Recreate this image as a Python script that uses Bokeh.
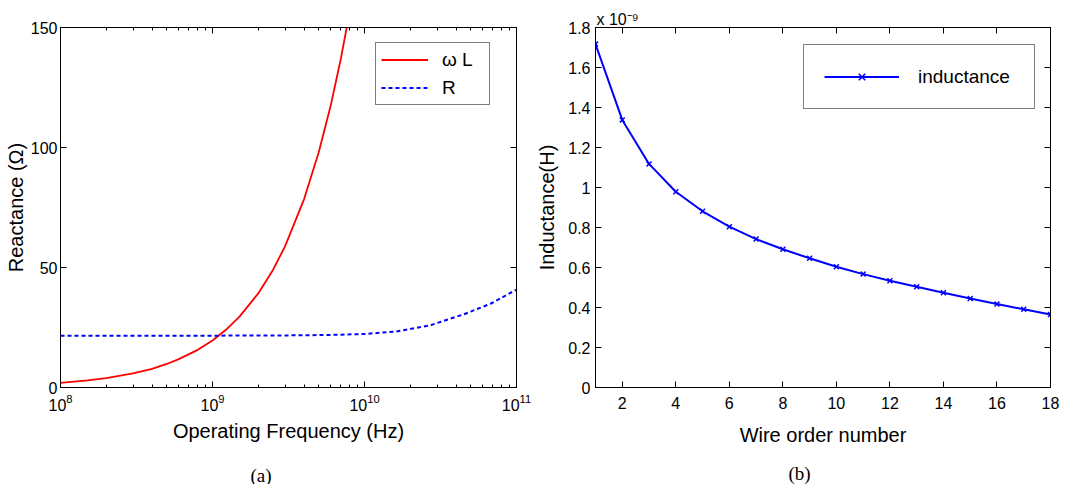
from bokeh.plotting import figure
from bokeh.layouts import row
from bokeh.models import (LogAxis, LinearAxis, LogTicker, FixedTicker, Legend,
                          LegendItem, Title, Range1d)
from bokeh.embed import file_html
from bokeh.resources import INLINE

# ---------------- data ----------------
# panel (a): reactance vs operating frequency
freq_wl = [1e8, 1.5e8, 2e8, 3e8, 4e8, 5e8, 6e8, 8e8, 1e9, 1.25e9, 1.5e9,
           2e9, 2.5e9, 3e9, 4e9, 5e9, 6e9, 7e9, 8e9]
omega_l = [1.96, 2.94, 3.92, 5.9, 7.8, 9.8, 11.8, 15.7, 19.6, 24.5, 29.4,
           39.2, 49.0, 58.8, 78.4, 98.0, 117.6, 137.2, 156.8]
freq_r = [1e8, 1e9, 3e9, 6e9, 1e10, 1.6e10, 2.7e10, 4.5e10, 6.8e10, 1e11]
resistance = [21.6, 21.6, 21.7, 21.9, 22.3, 23.3, 25.9, 30.5, 35.0, 40.8]
y_ticks_a = [0, 50, 100, 150]

# panel (b): inductance (x 1e-9 H) vs wire order number
wire = [1, 2, 3, 4, 5, 6, 7, 8, 9, 10, 11, 12, 13, 14, 15, 16, 17, 18]
inductance = [1.717, 1.338, 1.118, 0.979, 0.881, 0.804, 0.742, 0.691, 0.646,
              0.604, 0.567, 0.534, 0.504, 0.474, 0.445, 0.417, 0.391, 0.365]
x_ticks_b = [2, 4, 6, 8, 10, 12, 14, 16, 18]
y_ticks_b = [0, 0.2, 0.4, 0.6, 0.8, 1, 1.2, 1.4, 1.6, 1.8]
y_labels_b = ["0", "0.2", "0.4", "0.6", "0.8", "1", "1.2", "1.4", "1.6", "1.8"]

SANS = "Liberation Sans"
SERIF = "Liberation Serif"


def style_axis(ax, show_labels=True):
    ax.axis_line_color = "black"
    ax.axis_line_width = 1
    ax.major_tick_in = 6
    ax.major_tick_out = 0
    ax.minor_tick_in = 3
    ax.minor_tick_out = 0
    ax.major_tick_line_color = "black"
    ax.minor_tick_line_color = "black"
    ax.major_label_text_font = SANS
    ax.major_label_text_color = "black"
    ax.axis_label_text_font = SANS
    ax.axis_label_text_font_size = "20px"
    ax.axis_label_text_font_style = "normal"
    ax.axis_label_text_color = "black"
    ax.major_label_text_font_size = "16px"
    if not show_labels:
        ax.major_label_text_font_size = "1px"
        ax.major_label_text_alpha = 0
        ax.major_label_standoff = 0


def base_fig(**kw):
    p = figure(output_backend="svg", toolbar_location=None,
               background_fill_color="white", border_fill_color="white",
               **kw)
    p.outline_line_color = "black"
    p.outline_line_width = 1
    p.xgrid.grid_line_color = None
    p.ygrid.grid_line_color = None
    return p


def caption(text, offset, standoff):
    return Title(text=text, align="left", offset=offset,
                 vertical_align="bottom", standoff=standoff,
                 text_font=SERIF, text_font_size="19px",
                 text_font_style="normal", text_color="black")


# ---------------- panel (a) ----------------
pa = base_fig(x_axis_type="log", x_range=Range1d(1e8, 1e11),
              y_range=Range1d(0, 150), frame_width=456, frame_height=360,
              min_border_left=60, min_border_right=17, min_border_top=27,
              min_border_bottom=97)

r_wl = pa.line(freq_wl, omega_l, line_color="#ff0000", line_width=1.8)
r_r = pa.line(freq_r, resistance, line_color="#0000ff", line_width=2,
              line_dash="4 3")

xa = pa.xaxis[0]
xa.ticker = LogTicker(num_minor_ticks=10)
style_axis(xa)
xa.axis_label = "Operating Frequency (Hz)"
xa.major_label_standoff = 6
xa.axis_label_standoff = 6

ya = pa.yaxis[0]
ya.ticker = FixedTicker(ticks=y_ticks_a)
style_axis(ya)
ya.minor_tick_line_color = None
ya.axis_label = "Reactance (Ω)"
ya.major_label_standoff = 3
ya.axis_label_standoff = 1

top_a = LogAxis(ticker=LogTicker(num_minor_ticks=10))
style_axis(top_a, show_labels=False)
pa.add_layout(top_a, "above")
right_a = LinearAxis(ticker=FixedTicker(ticks=y_ticks_a))
style_axis(right_a, show_labels=False)
right_a.minor_tick_line_color = None
pa.add_layout(right_a, "right")

leg_a = Legend(items=[LegendItem(label="ω L", renderers=[r_wl]),
                      LegendItem(label="R", renderers=[r_r])],
               location=(315, 282), orientation="vertical", margin=0,
               padding=5, spacing=5, glyph_width=47, glyph_height=23,
               label_height=23, label_width=42, label_standoff=14,
               border_line_color="black", border_line_width=1,
               background_fill_color="white", background_fill_alpha=1,
               label_text_font=SANS, label_text_font_size="19px",
               label_text_color="black")
pa.add_layout(leg_a)
pa.add_layout(caption("(a)", 190, 36), "below")

# ---------------- panel (b) ----------------
pb = base_fig(x_range=Range1d(1, 18), y_range=Range1d(0, 1.8),
              frame_width=455, frame_height=360,
              min_border_left=61, min_border_right=12, min_border_top=27,
              min_border_bottom=97)

r_line = pb.line(wire, inductance, line_color="#0000ff", line_width=2)
r_mark = pb.scatter(wire, inductance, marker="x", size=7,
                    line_color="#0000ff", line_width=1.5)

xb = pb.xaxis[0]
xb.ticker = FixedTicker(ticks=x_ticks_b)
style_axis(xb)
xb.minor_tick_line_color = None
xb.axis_label = "Wire order number"
xb.major_label_standoff = 9
xb.axis_label_standoff = 12

yb = pb.yaxis[0]
yb.ticker = FixedTicker(ticks=y_ticks_b)
yb.major_label_overrides = dict(zip(y_ticks_b, y_labels_b))
style_axis(yb)
yb.minor_tick_line_color = None
yb.axis_label = "Inductance(H)"
yb.major_label_standoff = 5
yb.axis_label_standoff = 7

top_b = LinearAxis(ticker=FixedTicker(ticks=x_ticks_b))
style_axis(top_b, show_labels=False)
top_b.minor_tick_line_color = None
pb.add_layout(top_b, "above")
right_b = LinearAxis(ticker=FixedTicker(ticks=y_ticks_b))
style_axis(right_b, show_labels=False)
right_b.minor_tick_line_color = None
pb.add_layout(right_b, "right")

pb.add_layout(Title(text="x 10⁻⁹", align="left", offset=1,
                    vertical_align="bottom", standoff=0,
                    text_font=SANS, text_font_size="16px",
                    text_font_style="normal", text_color="black"), "above")

leg_b = Legend(items=[LegendItem(label="inductance",
                                 renderers=[r_line, r_mark])],
               location=(208, 278), orientation="vertical", margin=0,
               padding=20, spacing=0, glyph_width=75, glyph_height=23,
               label_height=23, label_width=96, label_standoff=19,
               border_line_color="black", border_line_width=1,
               background_fill_color="white", background_fill_alpha=1,
               label_text_font=SANS, label_text_font_size="19px",
               label_text_color="black")
pb.add_layout(leg_b)
pb.add_layout(caption("(b)", 193, 25), "below")

layout = row(pa, pb)
open("out.html", "w").write(file_html(layout, INLINE))
